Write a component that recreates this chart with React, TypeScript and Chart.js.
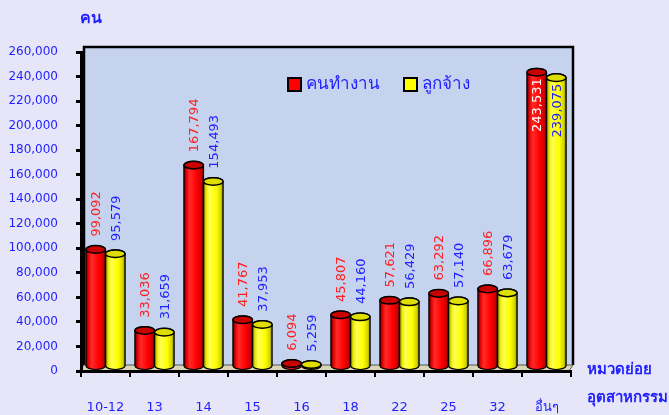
import React, { useEffect, useRef } from "react";
import { Chart, registerables } from "chart.js";

Chart.register(...registerables);

const categories = ["10-12", "13", "14", "15", "16", "18", "22", "25", "32", "อื่นๆ"];
const workers = [99092, 33036, 167794, 41767, 6094, 45807, 57621, 63292, 66896, 243531];
const employees = [95579, 31659, 154493, 37953, 5259, 44160, 56429, 57140, 63679, 239075];
const seriesNames = ["คนทำงาน", "ลูกจ้าง"];
const yTitle = "คน";
const xTitleLines = ["หมวดย่อย", "อุตสาหกรรม"];
const Y_MIN = 0;
const Y_MAX = 260000;
const Y_STEP = 20000;

const FONT = "DejaVu Sans, Tahoma, sans-serif";
const BLUE = "#1f1fff";
const RED_TXT = "#ff2020";
const PAGE_BG = "#e6e6f8";
const WALL_BG = "#c5d3ef";

const fmt = (v: number) => v.toLocaleString("en-US");

function cylinder(ctx: CanvasRenderingContext2D, x: number, y: number, base: number, w: number, kind: number) {
  const rx = w / 2;
  const ry = 3.8;
  const b = base - ry;
  const g = ctx.createLinearGradient(x - rx, 0, x + rx, 0);
  if (kind === 0) {
    g.addColorStop(0, "#500000");
    g.addColorStop(0.12, "#e00000");
    g.addColorStop(0.3, "#ff2a2a");
    g.addColorStop(0.65, "#ff0000");
    g.addColorStop(0.9, "#c80000");
    g.addColorStop(1, "#500000");
  } else {
    g.addColorStop(0, "#5a5a00");
    g.addColorStop(0.12, "#e6e600");
    g.addColorStop(0.3, "#ffff50");
    g.addColorStop(0.65, "#ffff00");
    g.addColorStop(0.9, "#d0d000");
    g.addColorStop(1, "#505000");
  }
  ctx.save();
  ctx.beginPath();
  ctx.moveTo(x - rx, y);
  ctx.lineTo(x - rx, b);
  ctx.ellipse(x, b, rx, ry, 0, Math.PI, 0, true);
  ctx.lineTo(x + rx, y);
  ctx.ellipse(x, y, rx, ry, 0, 0, Math.PI, true);
  ctx.closePath();
  ctx.fillStyle = g;
  ctx.fill();
  ctx.lineWidth = 1.2;
  ctx.strokeStyle = "#000";
  ctx.stroke();
  ctx.beginPath();
  ctx.ellipse(x, y, rx, ry, 0, 0, Math.PI * 2);
  ctx.fillStyle = kind === 0 ? "#c80000" : "#dede00";
  ctx.fill();
  ctx.lineWidth = 1.5;
  ctx.stroke();
  ctx.restore();
}

const decorPlugin = {
  id: "decor",
  beforeDraw(chart: any) {
    const { ctx, chartArea } = chart;
    const { left, right, top, bottom } = chartArea;
    ctx.save();
    ctx.fillStyle = PAGE_BG;
    ctx.fillRect(0, 0, chart.width, chart.height);
    ctx.fillStyle = WALL_BG;
    ctx.fillRect(left + 3, top - 5, right - left - 1, bottom - top - 1);
    ctx.lineWidth = 2.5;
    ctx.strokeStyle = "#000";
    ctx.beginPath();
    ctx.moveTo(left + 3, bottom - 6);
    ctx.lineTo(left + 3, top - 5);
    ctx.lineTo(right + 2, top - 5);
    ctx.lineTo(right + 2, bottom - 6);
    ctx.stroke();
    ctx.beginPath();
    ctx.moveTo(left + 3, bottom - 6);
    ctx.lineTo(right + 2, bottom - 6);
    ctx.lineTo(right - 2, bottom);
    ctx.lineTo(left - 2, bottom);
    ctx.closePath();
    ctx.fillStyle = "#d9d5b5";
    ctx.fill();
    ctx.lineWidth = 1;
    ctx.strokeStyle = "#555";
    ctx.stroke();
    ctx.restore();
  },
  afterDatasetsDraw(chart: any) {
    const { ctx, chartArea } = chart;
    for (let d = 0; d < 2; d++) {
      const meta = chart.getDatasetMeta(d);
      meta.data.forEach((el: any) => {
        cylinder(ctx, el.x, el.y, el.base, el.width, d);
      });
    }
    ctx.save();
    ctx.font = `13px ${FONT}`;
    for (let d = 0; d < 2; d++) {
      const meta = chart.getDatasetMeta(d);
      const vals = d === 0 ? workers : employees;
      meta.data.forEach((el: any, i: number) => {
        const txt = fmt(vals[i]);
        const tw = ctx.measureText(txt).width;
        const start = el.y - 3.8 - 9;
        ctx.save();
        if (start - tw < chartArea.top - 2) {
          ctx.translate(el.x + 1, el.y + 6);
          ctx.rotate(-Math.PI / 2);
          ctx.textAlign = "right";
          ctx.textBaseline = "middle";
          ctx.fillStyle = d === 0 ? "#ffffff" : BLUE;
        } else {
          ctx.translate(el.x + 1, start);
          ctx.rotate(-Math.PI / 2);
          ctx.textAlign = "left";
          ctx.textBaseline = "middle";
          ctx.fillStyle = d === 0 ? RED_TXT : BLUE;
        }
        ctx.fillText(txt, 0, 0);
        ctx.restore();
      });
    }
    ctx.restore();
  },
  afterDraw(chart: any) {
    const { ctx } = chart;
    ctx.save();
    const items = [
      { x: 288, color: "#ff0000", label: seriesNames[0] },
      { x: 404, color: "#ffff00", label: seriesNames[1] },
    ];
    ctx.font = `17px ${FONT}`;
    ctx.textBaseline = "middle";
    ctx.textAlign = "left";
    items.forEach((it) => {
      ctx.fillStyle = it.color;
      ctx.fillRect(it.x, 78, 13, 13);
      ctx.lineWidth = 2;
      ctx.strokeStyle = "#000";
      ctx.strokeRect(it.x, 78, 13, 13);
      ctx.fillStyle = BLUE;
      ctx.fillText(it.label, it.x + 18, 85);
    });
    ctx.font = `bold 16px ${FONT}`;
    ctx.fillStyle = BLUE;
    ctx.fillText(yTitle, 80, 19);
    ctx.font = `bold 15px ${FONT}`;
    ctx.fillText(xTitleLines[0], 587, 370);
    ctx.fillText(xTitleLines[1], 587, 398);
    ctx.restore();
  },
};

export default function App() {
  const ref = useRef<HTMLCanvasElement | null>(null);
  useEffect(() => {
    document.body.style.margin = "0";
    document.body.style.background = PAGE_BG;
    const canvas = ref.current;
    if (!canvas) return;
    const chart = new Chart(canvas, {
      type: "bar",
      data: {
        labels: categories,
        datasets: [
          { label: seriesNames[0], data: workers, backgroundColor: "rgba(0,0,0,0)", borderWidth: 0 },
          { label: seriesNames[1], data: employees, backgroundColor: "rgba(0,0,0,0)", borderWidth: 0 },
        ],
      },
      options: {
        animation: false,
        responsive: false,
        maintainAspectRatio: false,
        devicePixelRatio: 1,
        layout: { padding: { left: 0, top: 52, right: 98, bottom: 0 } },
        plugins: { legend: { display: false }, tooltip: { enabled: false } },
        datasets: { bar: { categoryPercentage: 0.8, barPercentage: 1 } },
        scales: {
          x: {
            grid: { offset: true, drawOnChartArea: false, drawTicks: true, tickLength: 6, color: "#000", lineWidth: 2 },
            border: { display: true, color: "#000", width: 3 },
            ticks: { color: BLUE, font: { size: 13, family: FONT }, padding: 23, maxRotation: 0, autoSkip: false },
            afterFit(s: any) { s.height = 44; },
          },
          y: {
            min: Y_MIN,
            max: Y_MAX,
            grid: { drawOnChartArea: false, drawTicks: true, tickLength: 5, color: "#000", lineWidth: 3 },
            border: { display: true, color: "#000", width: 3 },
            ticks: { stepSize: Y_STEP, color: BLUE, font: { size: 12, family: FONT }, padding: 18, callback: (v: any) => fmt(Number(v)) },
            afterFit(s: any) { s.width = 81; },
          },
        },
      },
      plugins: [decorPlugin],
    } as any);
    return () => chart.destroy();
  }, []);
  return (
    <div style={{ width: 669, height: 415, background: PAGE_BG }}>
      <canvas ref={ref} width={669} height={415} style={{ display: "block" }} />
    </div>
  );
}
